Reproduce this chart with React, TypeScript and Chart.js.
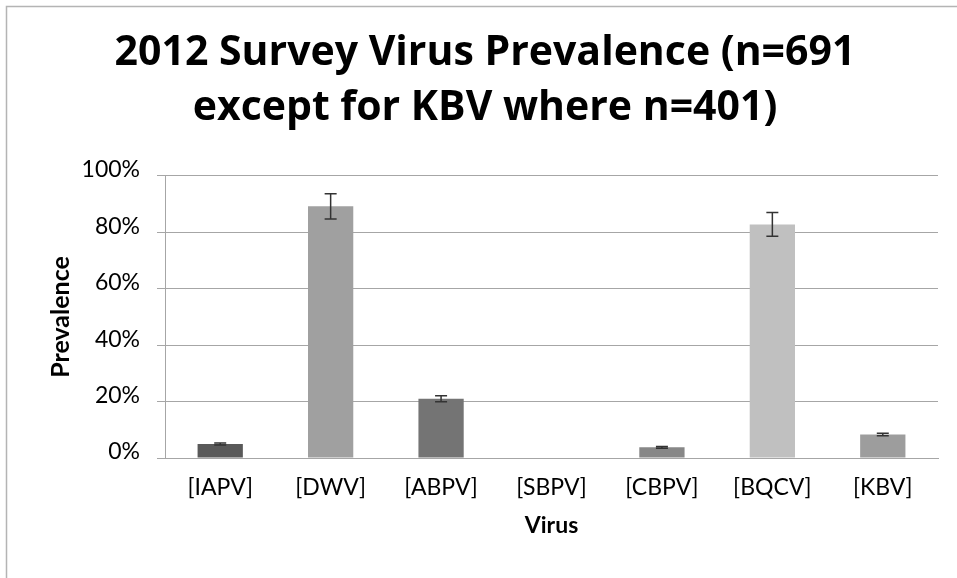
import React, { useEffect, useRef } from "react";
import { Chart, registerables } from "chart.js";

Chart.register(...registerables);

const titleLines = ["2012 Survey Virus Prevalence (n=691", "except for KBV where n=401)"];
const categories = ["[IAPV]", "[DWV]", "[ABPV]", "[SBPV]", "[CBPV]", "[BQCV]", "[KBV]"];
const prevalence = [5.0, 89.2, 21.0, 0, 3.8, 82.8, 8.3];
const errors = [0.35, 4.5, 1.1, 0, 0.3, 4.2, 0.45];
const barColors = ["#595959", "#a0a0a0", "#747474", "#8a8a8a", "#878787", "#c0c0c0", "#9d9d9d"];
const yTicks = [0, 20, 40, 60, 80, 100];

const FONT = "Lato, 'Open Sans', sans-serif";
const TITLE_FONT = "'Open Sans', Lato, sans-serif";

const framePlugin = {
  id: "frame",
  beforeDraw(chart: any) {
    const { ctx, width, height } = chart;
    ctx.save();
    ctx.fillStyle = "#ffffff";
    ctx.fillRect(0, 0, width, height);
    ctx.strokeStyle = "#b4b4b4";
    ctx.lineWidth = 1.5;
    ctx.beginPath();
    ctx.moveTo(6.5, height);
    ctx.lineTo(6.5, 6.5);
    ctx.lineTo(width, 6.5);
    ctx.stroke();
    ctx.restore();
  },
};

const errorBarPlugin = {
  id: "errorBars",
  afterDatasetsDraw(chart: any) {
    const { ctx } = chart;
    const meta = chart.getDatasetMeta(0);
    const yScale = chart.scales.y;
    ctx.save();
    ctx.strokeStyle = "#333333";
    ctx.lineWidth = 1.5;
    meta.data.forEach((bar: any, i: number) => {
      const err = errors[i];
      if (!err) return;
      const v = prevalence[i];
      const x = bar.x;
      const yTop = yScale.getPixelForValue(v + err);
      const yBot = yScale.getPixelForValue(v - err);
      const half = 6;
      ctx.beginPath();
      ctx.moveTo(x, yTop);
      ctx.lineTo(x, yBot);
      ctx.moveTo(x - half, yTop);
      ctx.lineTo(x + half, yTop);
      ctx.moveTo(x - half, yBot);
      ctx.lineTo(x + half, yBot);
      ctx.stroke();
    });
    ctx.restore();
  },
};

export default function App() {
  const ref = useRef<HTMLCanvasElement | null>(null);
  useEffect(() => {
    if (!ref.current) return;
    const chart = new Chart(ref.current, {
      type: "bar",
      data: {
        labels: categories,
        datasets: [
          {
            data: prevalence,
            backgroundColor: barColors,
            borderWidth: 0,
            barPercentage: 0.41,
            categoryPercentage: 1,
          },
        ],
      },
      options: {
        animation: false,
        responsive: true,
        maintainAspectRatio: false,
        layout: { padding: { left: 32, right: 19, top: 0, bottom: 20 } },
        plugins: {
          legend: { display: false },
          tooltip: { enabled: false },
          title: {
            display: true,
            text: titleLines,
            color: "#000000",
            font: { family: TITLE_FONT, size: 41, weight: "bold", lineHeight: 1.34 },
            padding: { top: 26, bottom: 40 },
          },
        },
        scales: {
          x: {
            grid: { display: false, drawTicks: false },
            border: { display: true, color: "#a6a6a6", width: 1 },
            ticks: {
              color: "#000000",
              font: { family: FONT, size: 23 },
              padding: 16,
              maxRotation: 0,
              autoSkip: false,
            },
            title: {
              display: true,
              text: "Virus",
              color: "#000000",
              font: { family: FONT, size: 23, weight: "bold" },
              padding: { top: 0, bottom: 19 },
            },
            afterFit(scale: any) {
              scale.height = 100;
            },
          },
          y: {
            min: 0,
            max: 100,
            afterBuildTicks(scale: any) {
              scale.ticks = yTicks.map((v) => ({ value: v }));
            },
            grid: { color: "#a6a6a6", lineWidth: 1, drawTicks: true, tickLength: 8 },
            border: { display: true, color: "#a6a6a6", width: 1 },
            ticks: {
              color: "#000000",
              font: { family: FONT, size: 23 },
              padding: 17,
              labelOffset: -6,
              callback: (v: any) => v + "%",
            },
            title: {
              display: true,
              text: "Prevalence",
              color: "#000000",
              font: { family: FONT, size: 25, weight: "bold" },
              padding: { top: 14, bottom: 0 },
            },
            afterFit(scale: any) {
              scale.width = 133;
            },
          },
        },
      },
      plugins: [framePlugin, errorBarPlugin],
    });
    return () => chart.destroy();
  }, []);
  return (
    <div style={{ position: "fixed", left: 0, top: 0, width: 957, height: 578 }}>
      <canvas ref={ref} />
    </div>
  );
}
